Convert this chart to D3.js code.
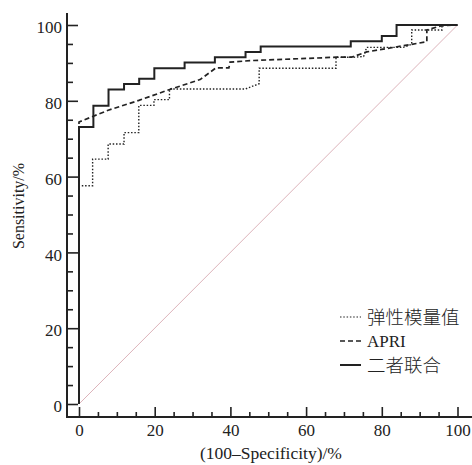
<!DOCTYPE html>
<html>
<head>
<meta charset="utf-8">
<script src="https://cdn.jsdelivr.net/npm/d3@7"></script>
<style>
    body { margin: 0; background: #fff; }
    svg text { font-family: "Liberation Serif", "DejaVu Serif", serif; fill: #222; }
    svg text.cjk { font-family: "Noto Sans CJK SC", sans-serif; font-weight: 300; }
</style>
</head>
<body>
<svg id="chart" width="472" height="465"></svg>
<script>
// Data (x = 100-Specificity, y = Sensitivity)
var elastX = [0, 0, 3.6, 3.6, 7.7, 7.7, 11.9, 11.9, 15.8, 15.8, 19.8, 19.8, 23.9, 23.9, 43.9, 47.6, 47.6, 67.9, 67.9, 72.5, 75.2, 76.0, 85.7, 87.9, 87.9, 95.9, 95.9, 100];
var elastY = [0, 57.6, 57.6, 64.6, 64.6, 68.6, 68.6, 71.6, 71.6, 78.8, 78.8, 80.3, 80.3, 83.1, 83.1, 84.5, 88.6, 88.6, 91.5, 91.5, 91.7, 94.1, 94.1, 94.9, 98.7, 98.7, 100, 100];

var apriX = [0, 0, 7.7, 15.8, 24.0, 32.0, 36.2, 39.6, 39.9, 45.2, 68.0, 72.0, 76.0, 87.9, 91.9, 91.9, 95.8, 100];
var apriY = [0, 74.4, 77.5, 80.1, 83.0, 85.6, 88.7, 88.7, 90.2, 90.6, 91.5, 91.5, 92.9, 94.9, 95.6, 98.7, 99.8, 100];

var combX = [0, 0, 3.8, 3.8, 7.8, 7.8, 11.9, 11.9, 15.9, 15.9, 19.9, 19.9, 27.9, 27.9, 35.9, 35.9, 44.0, 44.0, 48.0, 48.0, 71.8, 71.8, 80.0, 80.0, 83.9, 83.9, 100];
var combY = [0, 73.1, 73.1, 78.7, 78.7, 83.0, 83.0, 84.4, 84.4, 85.8, 85.8, 88.6, 88.6, 90.1, 90.1, 91.5, 91.5, 92.9, 92.9, 94.3, 94.3, 95.7, 95.7, 97.1, 97.1, 100, 100];

var refX = [0, 100];
var refY = [0, 100];

var majorTicks = [0, 20, 40, 60, 80, 100];
var minorTicks = [5, 10, 15, 25, 30, 35, 45, 50, 55, 65, 70, 75, 85, 90, 95];

var seriesNames = ["弹性模量值", "APRI", "二者联合"];

var svg = d3.select("#chart");

var x = d3.scaleLinear().domain([0, 100]).range([79, 457.5]);
var y = d3.scaleLinear().domain([0, 100]).range([404, 25]);

var axisX = 67;     // y axis line position
var axisY = 417;    // x axis line position
var ink = "#222";

var toPoints = function(xs, ys) {
    return xs.map(function(v, i) { return [v, ys[i]]; });
};
var line = d3.line()
    .x(function(d) { return x(d[0]); })
    .y(function(d) { return y(d[1]); });

// Reference diagonal
svg.append("path")
    .attr("d", line(toPoints(refX, refY)))
    .attr("fill", "none")
    .attr("stroke", "#d8aab2")
    .attr("stroke-width", 0.9);

// Y axis
var yMajor = svg.append("g")
    .attr("transform", "translate(" + axisX + ",0)")
    .call(d3.axisLeft(y).tickValues(majorTicks).tickSizeInner(-11).tickSizeOuter(0).tickPadding(5));
var yMinor = svg.append("g")
    .attr("transform", "translate(" + axisX + ",0)")
    .call(d3.axisLeft(y).tickValues(minorTicks).tickSizeInner(-6).tickSizeOuter(0).tickFormat(""));

// X axis
var xMajor = svg.append("g")
    .attr("transform", "translate(0," + axisY + ")")
    .call(d3.axisBottom(x).tickValues(majorTicks).tickSizeInner(-10).tickSizeOuter(0).tickPadding(5));
var xMinor = svg.append("g")
    .attr("transform", "translate(0," + axisY + ")")
    .call(d3.axisBottom(x).tickValues(minorTicks).tickSizeInner(-5).tickSizeOuter(0).tickFormat(""));

[yMajor, yMinor, xMajor, xMinor].forEach(function(g) {
    g.select(".domain").remove();
    g.selectAll(".tick line").attr("stroke", ink).attr("stroke-width", 1.6);
    g.selectAll(".tick text")
        .attr("fill", ink)
        .style("font-size", "17px")
        .style("font-family", "'Liberation Serif', serif");
});
yMajor.selectAll(".tick text").attr("dy", "0.45em");
xMajor.selectAll(".tick text").attr("dy", "0.8em");

// Axis lines
svg.append("line")
    .attr("x1", axisX).attr("x2", axisX)
    .attr("y1", 13).attr("y2", axisY + 1)
    .attr("stroke", ink).attr("stroke-width", 2);
svg.append("line")
    .attr("x1", axisX - 1).attr("x2", 472)
    .attr("y1", axisY).attr("y2", axisY)
    .attr("stroke", ink).attr("stroke-width", 2);

// Axis titles
svg.append("text")
    .attr("x", 271).attr("y", 459)
    .attr("text-anchor", "middle")
    .style("font-size", "17.5px")
    .text("(100–Specificity)/%");

svg.append("text")
    .attr("transform", "translate(24,206) rotate(-90)")
    .attr("text-anchor", "middle")
    .style("font-size", "16px")
    .text("Sensitivity/%");

// ROC curves
var series = [
    { name: seriesNames[0], xs: elastX, ys: elastY, dash: "1.5,1.8", width: 1.4 },
    { name: seriesNames[1], xs: apriX, ys: apriY, dash: "5,3", width: 1.7 },
    { name: seriesNames[2], xs: combX, ys: combY, dash: null, width: 2 }
];

series.forEach(function(s) {
    svg.append("path")
        .attr("d", line(toPoints(s.xs, s.ys)))
        .attr("fill", "none")
        .attr("stroke", ink)
        .attr("stroke-width", s.width)
        .attr("stroke-dasharray", s.dash);
});

// Legend
var legend = svg.append("g").attr("transform", "translate(340,317)");
series.forEach(function(s, i) {
    var row = legend.append("g").attr("transform", "translate(0," + (i * 24) + ")");
    row.append("line")
        .attr("x1", 0).attr("x2", 21)
        .attr("y1", 0).attr("y2", 0)
        .attr("stroke", ink)
        .attr("stroke-width", i == 0 ? 1.1 : s.width)
        .attr("stroke-dasharray", s.dash);
    row.append("text")
        .attr("x", 27).attr("y", 0)
        .attr("dy", "0.36em")
        .attr("class", i == 1 ? null : "cjk")
        .style("font-size", i == 1 ? "17px" : "18.5px")
        .text(s.name);
});
</script>
</body>
</html>
